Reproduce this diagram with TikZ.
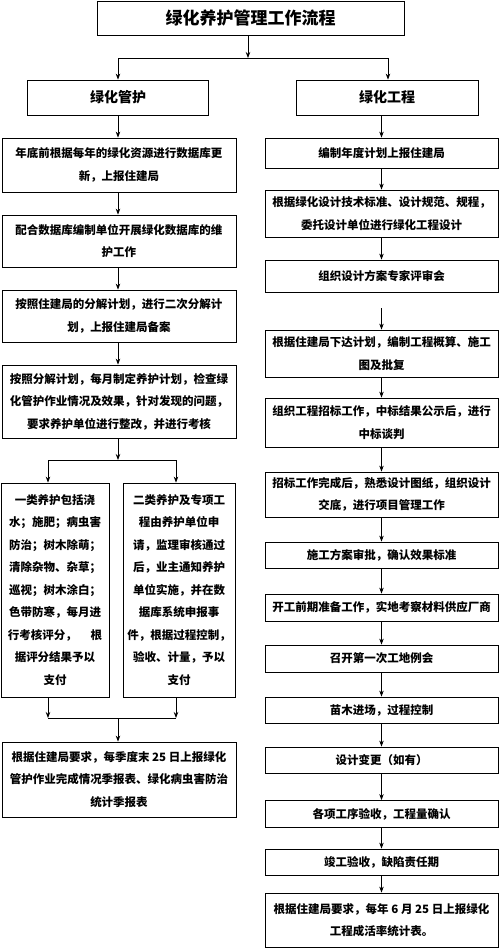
\documentclass[tikz,border=0pt]{standalone}
\usepackage{fontspec}
\setmainfont{Noto Sans CJK SC}
\usetikzlibrary{arrows.meta}
\tikzset{
  box/.style={draw=black, line width=0.8pt, inner sep=0pt, align=center,
    font=\fontsize{11.5}{22.5}\selectfont\bfseries},
  lbox/.style={box, minimum width=234pt},
  rbox/.style={box, minimum width=233pt},
  arr/.style={line width=0.8pt, -{Stealth[length=6pt,width=4.5pt]}},
  ln/.style={line width=0.8pt},
}
\begin{document}
\begin{tikzpicture}[x=1pt,y=-1pt]
\useasboundingbox (0,0) rectangle (500,948);
% title and level 2
\node[box, minimum width=307pt, minimum height=34pt, font=\fontsize{17}{20}\selectfont\bfseries] (title) at (250.5,18) {绿化养护管理工作流程};
\node[box, minimum width=181pt, minimum height=35pt, font=\fontsize{14}{17}\selectfont\bfseries] (L0) at (118,97.5) {绿化管护};
\node[box, minimum width=182pt, minimum height=35pt, font=\fontsize{14}{17}\selectfont\bfseries] (R0) at (387,97.5) {绿化工程};
% left column
\node[lbox, minimum height=54pt] (L1) at (119,165) {年底前根据每年的绿化资源进行数据库更\\新，上报住建局};
\node[lbox, minimum height=52pt] (L2) at (119,241) {配合数据库编制单位开展绿化数据库的维\\护工作};
\node[lbox, minimum height=52pt] (L3) at (119,316) {按照住建局的分解计划，进行二次分解计\\划，上报住建局备案};
\node[lbox, minimum height=73pt] (L4) at (119,401.5) {按照分解计划，每月制定养护计划，检查绿\\化管护作业情况及效果，针对发现的问题，\\要求养护单位进行整改，并进行考核};
\node[box, minimum width=108pt, minimum height=214pt] (L5a) at (55,590) {一类养护包括浇\\水；施肥；病虫害\\防治；树木除萌；\\清除杂物、杂草；\\巡视；树木涂白；\\色带防寒，每月进\\行考核评分，\hspace{1.2em}根\\据评分结果予以\\支付};
\node[box, minimum width=112pt, minimum height=214pt] (L5b) at (179,590) {二类养护及专项工\\程由养护单位申\\请，监理审核通过\\后，业主通知养护\\单位实施，并在数\\据库系统申报事\\件，根据过程控制，\\验收、计量，予以\\支付};
\node[lbox, minimum height=75pt] (L6) at (119,779.5) {根据住建局要求，每季度末 25 日上报绿化\\管护作业完成情况季报表、绿化病虫害防治\\统计季报表};
% right column
\node[rbox, minimum height=30pt] (R1) at (381.5,153) {编制年度计划上报住建局};
\node[rbox, minimum height=47pt] (R2) at (381.5,213.5) {根据绿化设计技术标准、设计规范、规程，\\委托设计单位进行绿化工程设计};
\node[rbox, minimum height=32pt] (R3) at (381.5,276) {组织设计方案专家评审会};
\node[rbox, minimum height=47pt] (R4) at (381.5,353.5) {根据住建局下达计划，编制工程概算、施工\\图及批复};
\node[rbox, minimum height=49pt] (R5) at (381.5,422.5) {组织工程招标工作，中标结果公示后，进行\\中标谈判};
\node[rbox, minimum height=45pt] (R6) at (381.5,494.5) {招标工作完成后，熟悉设计图纸，组织设计\\交底，进行项目管理工作};
\node[rbox, minimum height=26pt] (R7) at (381.5,555) {施工方案审批，确认效果标准};
\node[rbox, minimum height=27pt] (R8) at (381.5,607.5) {开工前期准备工作，实地考察材料供应厂商};
\node[rbox, minimum height=27pt] (R9) at (381.5,658.5) {召开第一次工地例会};
\node[rbox, minimum height=26pt] (R10) at (381.5,710) {苗木进场，过程控制};
\node[rbox, minimum height=26pt] (R11) at (381.5,760) {设计变更（如有）};
\node[rbox, minimum height=27pt] (R12) at (381.5,814) {各项工序验收，工程量确认};
\node[rbox, minimum height=26pt] (R13) at (381.5,862) {竣工验收，缺陷责任期};
\node[rbox, minimum height=54pt] (R14) at (381.5,920) {根据住建局要求，每年 6 月 25 日上报绿化\\工程成活率统计表。};
% coordinates
\coordinate (s1) at (248,58);
\coordinate (s1l) at (118,58);
\coordinate (s1r) at (388,58);
\coordinate (s2) at (118,460);
\coordinate (s2l) at (48,460);
\coordinate (s2r) at (176,460);
\coordinate (s3) at (118,718);
\coordinate (s3l) at (48,718);
\coordinate (s3r) at (176,718);
\coordinate (g) at (381.5,308);
% connectors top
\draw[arr] (title.south -| s1) -- (s1);
\draw[ln] (s1l) -- (s1r);
\draw[arr] (s1l) -- (s1l |- L0.north);
\draw[arr] (s1r) -- (s1r |- R0.north);
% left chain
\draw[arr] (L0.south) -- (L0.south |- L1.north);
\draw[arr] (L1.south -| L0.south) -- (L0.south |- L2.north);
\draw[arr] (L2.south -| L0.south) -- (L0.south |- L3.north);
\draw[arr] (L3.south -| L0.south) -- (L0.south |- L4.north);
\draw[arr] (L4.south -| s2) -- (s2);
\draw[ln] (s2l) -- (s2r);
\draw[arr] (s2l) -- (s2l |- L5a.north);
\draw[arr] (s2r) -- (s2r |- L5b.north);
\draw[arr] (L5a.south -| s3l) -- (s3l);
\draw[arr] (L5b.south -| s3r) -- (s3r);
\draw[ln] (s3l) -- (s3r);
\draw[arr] (s3) -- (s3 |- L6.north);
% right chain
\draw[arr] (R0.south -| R1.north) -- (R1.north);
\draw[arr] (R1) -- (R2);
\draw[arr] (R2) -- (R3);
\draw[arr] (g) -- (R4.north);
\draw[arr] (R4) -- (R5);
\draw[arr] (R5) -- (R6);
\draw[arr] (R6) -- (R7);
\draw[arr] (R7) -- (R8);
\draw[arr] (R8) -- (R9);
\draw[arr] (R9) -- (R10);
\draw[arr] (R10) -- (R11);
\draw[arr] (R11) -- (R12);
\draw[arr] (R12) -- (R13);
\draw[arr] (R13) -- (R14);
\end{tikzpicture}
\end{document}
